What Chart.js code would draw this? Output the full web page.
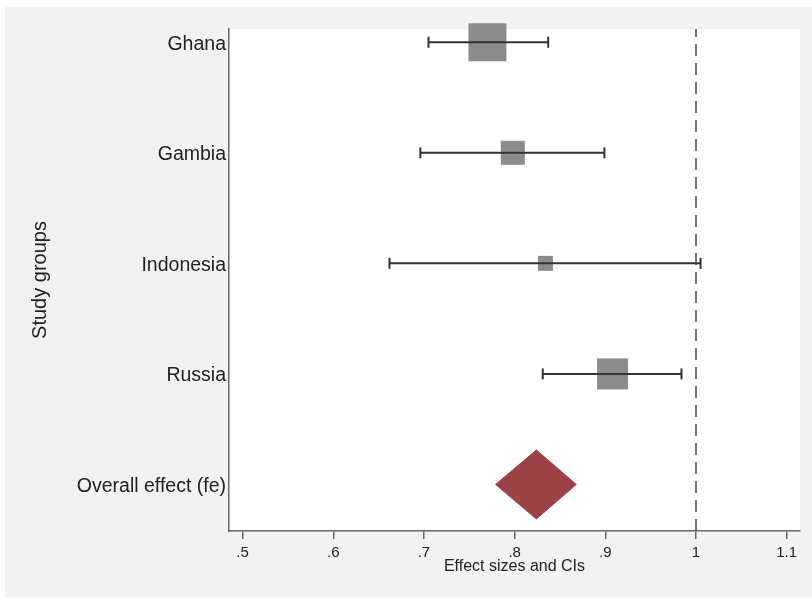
<!DOCTYPE html>
<html>
<head>
<meta charset="utf-8">
<script src="https://cdn.jsdelivr.net/npm/chart.js@4.4.1/dist/chart.umd.min.js"></script>
<style>
  html, body { margin: 0; padding: 0; background: #fff; }
  #wrap { width: 812px; height: 599px; }
</style>
</head>
<body>
<div id="wrap"><canvas id="forest"></canvas></div>
<script>
// valores
const studies = ["Ghana", "Gambia", "Indonesia", "Russia"];
const effects = [0.770, 0.798, 0.834, 0.908];
const ciLow = [0.705, 0.696, 0.662, 0.831];
const ciHigh = [0.837, 0.899, 1.005, 0.984];
const weights = [45, 18, 7, 30]; // peso (%), da el tamaño del cuadrado

const overallLabel = "Overall effect (fe)";
const overallEffect = [0.824];
const overallLow = [0.779];
const overallHigh = [0.868];

const xTicks = [0.5, 0.6, 0.7, 0.8, 0.9, 1, 1.1];
const xTickLabels = [".5", ".6", ".7", ".8", ".9", "1", "1.1"];

// filas: Ghana arriba (5) ... overall abajo (1)
const rowY = (i) => studies.length - i + 1;
const rowLabels = [overallLabel].concat(studies.slice().reverse());

const Y_MIN = 0.579, Y_MAX = 5.12;
const DIAMOND_H = 0.312;
const BOX_K = 5.66;

const datasets = [];

// intervalos de confianza
studies.forEach((name, i) => {
  datasets.push({
    type: "line",
    data: [{ x: ciLow[i], y: rowY(i) }, { x: ciHigh[i], y: rowY(i) }],
    borderColor: "#333",
    borderWidth: 2,
    pointStyle: "line",
    pointRotation: 90,
    pointRadius: 5.5,
    pointBorderWidth: 2,
    pointBorderColor: "#333",
    order: 0,
    clip: false,
  });
});

// cuadrados con el efecto de cada estudio
datasets.push({
  type: "scatter",
  data: effects.map((v, i) => ({ x: v, y: rowY(i) })),
  pointStyle: "rect",
  pointRadius: weights.map((w) => BOX_K * Math.sqrt(w) * Math.SQRT1_2),
  backgroundColor: "#8c8c8c",
  borderWidth: 0,
  pointBorderWidth: 0,
  order: 2,
  clip: false,
});

// rombo del efecto global
datasets.push({
  type: "line",
  data: [
    { x: overallLow[0], y: 1 },
    { x: overallEffect[0], y: 1 + DIAMOND_H },
    { x: overallHigh[0], y: 1 },
    { x: overallEffect[0], y: 1 - DIAMOND_H },
    { x: overallLow[0], y: 1 },
  ],
  fill: "shape",
  backgroundColor: "#9c4247",
  borderColor: "#9c4247",
  borderWidth: 1,
  pointRadius: 0,
  tension: 0,
  order: 1,
  clip: false,
});

// linea de no efecto
datasets.push({
  type: "line",
  data: [{ x: 1, y: Y_MIN }, { x: 1, y: Y_MAX }],
  borderColor: "#555",
  borderWidth: 1.6,
  borderDash: [12, 7],
  pointRadius: 0,
  order: 3,
});

// fondo gris y area blanca
const backgroundPlugin = {
  id: "fondo",
  beforeDraw(chart) {
    const { ctx, chartArea } = chart;
    ctx.save();
    ctx.fillStyle = "#fff";
    ctx.fillRect(0, 0, chart.width, chart.height);
    ctx.fillStyle = "#f2f2f2";
    ctx.fillRect(5, 7, chart.width - 5, 591);
    ctx.fillStyle = "#fff";
    ctx.fillRect(chartArea.left, chartArea.top, chartArea.right - chartArea.left, chartArea.bottom - chartArea.top);
    ctx.restore();
  },
};

const ctx = document.getElementById("forest").getContext("2d");
new Chart(ctx, {
  type: "scatter",
  data: { datasets },
  plugins: [backgroundPlugin],
  options: {
    responsive: true,
    maintainAspectRatio: false,
    animation: false,
    layout: { autoPadding: false, padding: { top: 29, right: 12, left: 0, bottom: 0 } },
    plugins: {
      legend: { display: false },
      tooltip: { enabled: false },
    },
    scales: {
      x: {
        type: "linear",
        min: 0.485,
        max: 1.1147,
        afterBuildTicks: (scale) => {
          scale.ticks = xTicks.map((v) => ({ value: v }));
        },
        afterFit: (scale) => {
          scale.height = 68;
          scale.paddingLeft = 0;
          scale.paddingRight = 0;
        },
        ticks: {
          autoSkip: false,
          maxRotation: 0,
          padding: 5,
          color: "#222",
          font: { family: "Liberation Sans", size: 15 },
          callback: (v, i) => xTickLabels[i],
        },
        grid: { drawOnChartArea: false, drawTicks: true, tickLength: 8, color: "#666", lineWidth: 1.5 },
        border: { display: true, color: "#666", width: 1.5 },
        title: {
          display: true,
          text: "Effect sizes and CIs",
          color: "#222",
          font: { family: "Liberation Sans", size: 16 },
          padding: { top: 0, bottom: 23 },
        },
      },
      y: {
        type: "linear",
        min: Y_MIN,
        max: Y_MAX,
        afterBuildTicks: (scale) => {
          scale.ticks = [1, 2, 3, 4, 5].map((v) => ({ value: v }));
        },
        afterFit: (scale) => {
          scale.width = 229;
          scale.paddingTop = 0;
          scale.paddingBottom = 0;
        },
        ticks: {
          autoSkip: false,
          padding: 3,
          labelOffset: 2,
          color: "#222",
          font: { family: "Liberation Sans", size: 19.5 },
          callback: (v) => rowLabels[v - 1],
        },
        grid: { display: false, drawTicks: false },
        border: { display: true, color: "#666", width: 1.5 },
        title: {
          display: true,
          text: "Study groups",
          color: "#222",
          font: { family: "Liberation Sans", size: 20 },
          padding: { top: 28, bottom: 0 },
        },
      },
    },
  },
});
</script>
</body>
</html>
